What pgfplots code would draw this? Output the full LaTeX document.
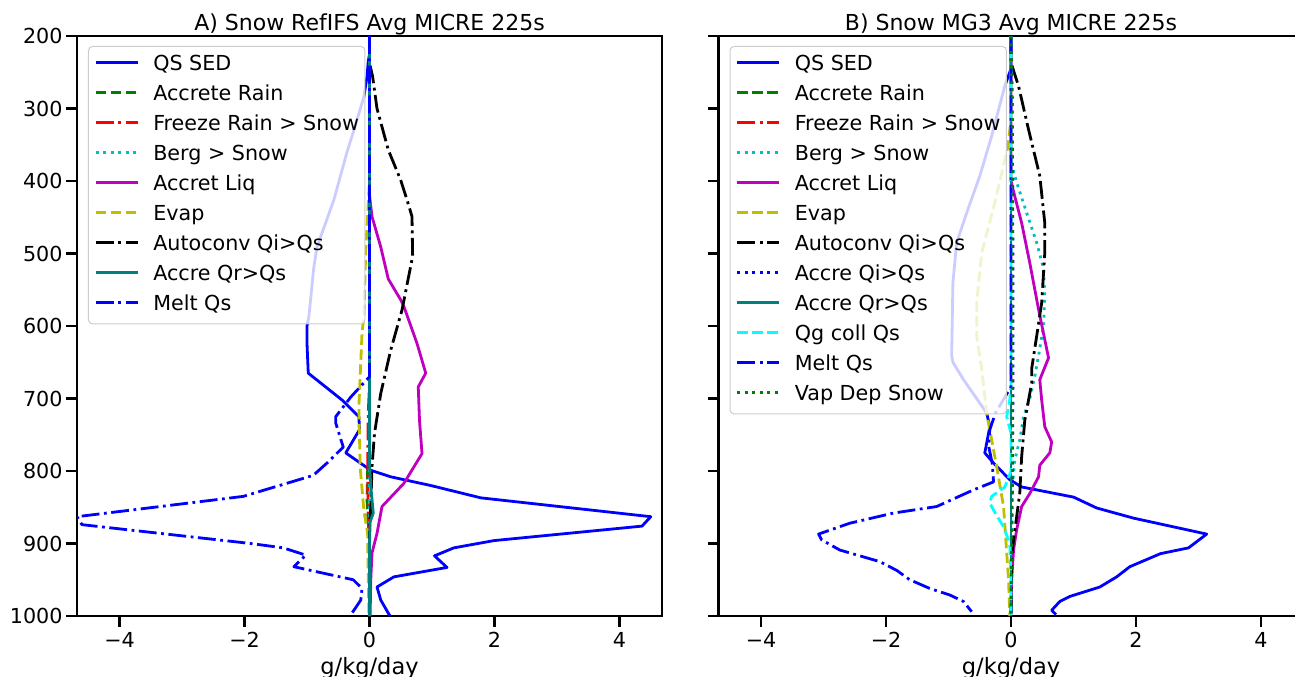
\documentclass[border=0pt]{standalone}
\usepackage{pgfplots}
\pgfplotsset{compat=1.18}
\usepackage{fontspec}
\setmainfont{DejaVu Sans}

\definecolor{mplb}{rgb}{0,0,1}
\definecolor{mplg}{rgb}{0,0.5,0}
\definecolor{mplr}{rgb}{1,0,0}
\definecolor{mplc}{rgb}{0,0.75,0.75}
\definecolor{mplm}{rgb}{0.75,0,0.75}
\definecolor{mply}{rgb}{0.75,0.75,0}
\definecolor{mplteal}{rgb}{0,0.5,0.5}
\definecolor{mplaqua}{rgb}{0,1,1}

\newcommand{\tickfont}{\fontsize{15.5}{18}\selectfont}

\pgfplotsset{
  legend image code/.code={\draw[#1] (0pt,0pt) -- (31.5pt,0pt); \path (0pt,-10.5pt);},
  ln/.style={line width=2.1pt, line join=round},
  sol/.style={ln, solid},
  dsh/.style={ln, dash pattern=on 7.8pt off 3.4pt},
  dsd/.style={ln, dash pattern=on 13.4pt off 3.4pt on 2.1pt off 3.4pt},
  dtt/.style={ln, dash pattern=on 2.1pt off 3.5pt},
  prof/.style={
    scale only axis, width=438.75pt, height=435pt,
    line width=1.9pt,
    xmin=-4.68, xmax=4.68, ymin=200, ymax=1000, y dir=reverse,
    xtick={-4,-2,0,2,4}, xticklabels={−4,−2,0,2,4},
    ytick={200,300,...,1000},
    yticklabels={200,300,400,500,600,700,800,900,1000},
    xtick pos=bottom, ytick pos=left, tick align=outside,
    major tick length=8pt,
    every tick/.style={black, line width=1.9pt},
    tick label style={font=\tickfont},
    yticklabel style={xshift=1.4pt},
    title style={at={(0.5,1)}, anchor=base, yshift=-2pt, font=\fontsize{16.5}{19}\selectfont},
    xlabel={g/kg/day},
    xlabel style={at={(0.5,0)}, anchor=base, yshift=-43.5pt, font=\fontsize{16.9}{20}\selectfont},
    legend cell align=left,
    legend style={at={(0.0188,0.9828)}, anchor=north west, font=\tickfont,
      draw=black!20, line width=0.75pt, rounded corners=3pt,
      fill=white, fill opacity=0.8, draw opacity=1, text opacity=1,
      inner xsep=4.5pt, inner ysep=4.5pt, row sep=3.45pt, column sep=10.5pt,
      nodes={inner sep=0pt, text height=13.15pt, text depth=1.85pt}},
  },
}

\begin{document}
\begin{tikzpicture}

% A) RefIFS
\begin{axis}[prof, at={(57.75pt,45pt)}, anchor=south west,
  title={A) Snow RefIFS Avg MICRE 225s}]
\addplot[sol, mplb] coordinates {(0,200) (0,225) (-0.02,235) (-0.04,256) (-0.09,284) (-0.25,330) (-0.36,360) (-0.57,426) (-0.84,491) (-0.89,518) (-0.97,587) (-1.0,600) (-1.0,624) (-0.98,665) (-0.44,702) (-0.17,725) (-0.16,743) (-0.38,775) (0.02,799) (0.34,808) (0.98,820) (1.78,837) (4.5,863) (4.36,876) (1.99,896) (1.35,906) (1.04,917) (1.24,933) (0.39,946) (0.12,960) (0.18,978) (0.3,996) (0.33,1000)};
\addlegendentry{QS SED}
\addplot[dsh, mplg] coordinates {(0,200) (0,780) (-0.03,800) (-0.04,840) (-0.02,870) (0,900) (0,1000)};
\addlegendentry{Accrete Rain}
\addplot[dsd, mplr] coordinates {(0,200) (0,680) (-0.02,720) (-0.03,800) (-0.02,870) (0,900) (0,1000)};
\addlegendentry{Freeze Rain > Snow}
\addplot[dtt, mplc] coordinates {(0,200) (0,1000)};
\addlegendentry{Berg > Snow}
\addplot[sol, mplm] coordinates {(0,200) (0,420) (0.04,449) (0.18,491) (0.3,535) (0.5,564) (0.55,573) (0.76,624) (0.9,665) (0.78,684) (0.8,730) (0.84,776) (0.55,817) (0.2,849) (0.12,886) (0.04,913) (0.02,950) (0.01,1000)};
\addlegendentry{Accret Liq}
\addplot[dsh, mply] coordinates {(0,200) (0,400) (-0.04,463) (-0.06,495) (-0.09,587) (-0.12,610) (-0.17,711) (-0.15,794) (-0.09,854) (-0.03,886) (-0.02,950) (-0.01,1000)};
\addlegendentry{Evap}
\addplot[dsd, black] coordinates {(0,200) (0,237) (0.05,256) (0.12,300) (0.3,357) (0.5,399) (0.6,426) (0.68,449) (0.69,504) (0.52,578) (0.34,633) (0.18,693) (0.08,748) (0.04,794) (0.02,850) (0,880) (0,1000)};
\addlegendentry{Autoconv Qi>Qs}
\addplot[sol, mplteal] coordinates {(0,200) (0,790) (0.02,820) (0.06,858) (0.01,870) (0,900) (0,1000)};
\addlegendentry{Accre Qr>Qs}
\addplot[dsd, mplb] coordinates {(0,200) (0,670) (-0.3,698) (-0.54,725) (-0.54,734) (-0.42,767) (-0.68,789) (-0.9,806) (-2.02,835) (-4.68,863) (-4.6,874) (-1.9,900) (-1.38,906) (-1.02,916) (-1.21,932) (-0.26,950) (-0.12,962) (-0.14,978) (-0.28,996) (-0.3,1000)};
\addlegendentry{Melt Qs}
\end{axis}

% B) MG3
\begin{axis}[prof, at={(538.9pt,45pt)}, anchor=south west, yticklabels={},
  title={B) Snow MG3 Avg MICRE 225s}]
\addplot[sol, mplb] coordinates {(0,200) (0,245) (-0.1,269) (-0.31,338) (-0.5,393) (-0.71,444) (-0.87,485) (-0.93,540) (-0.95,641) (-0.93,650) (-0.76,674) (-0.39,720) (-0.34,739) (-0.42,775) (-0.28,789) (-0.02,812) (0.17,822) (1.0,836) (1.37,851) (1.96,865) (3.13,887) (2.84,906) (2.39,914) (1.9,932) (1.69,946) (1.42,960) (0.94,973) (0.78,980) (0.65,992) (0.72,998)};
\addlegendentry{QS SED}
\addplot[dsh, mplg] coordinates {(0,200) (0,1000)};
\addlegendentry{Accrete Rain}
\addplot[dsd, mplr] coordinates {(0,200) (0,1000)};
\addlegendentry{Freeze Rain > Snow}
\addplot[dtt, mplc] coordinates {(0,200) (0,375) (0.09,402) (0.25,444) (0.41,485) (0.52,521) (0.54,559) (0.52,600) (0.44,641) (0.38,669) (0.3,700) (0.2,725) (0.14,757) (0.06,785) (0.03,812) (0.01,850) (0,1000)};
\addlegendentry{Berg > Snow}
\addplot[sol, mplm] coordinates {(0,200) (0,400) (0.03,411) (0.17,458) (0.3,513) (0.44,577) (0.6,644) (0.46,674) (0.49,702) (0.54,739) (0.65,760) (0.62,775) (0.46,792) (0.44,808) (0.3,831) (0.17,849) (0.09,881) (0.04,909) (0.01,950) (0,1000)};
\addlegendentry{Accret Liq}
\addplot[dsh, mply] coordinates {(0,200) (0,315) (-0.05,352) (-0.26,430) (-0.47,499) (-0.55,568) (-0.55,614) (-0.47,659) (-0.39,720) (-0.23,794) (-0.12,849) (-0.04,950) (-0.02,1000)};
\addlegendentry{Evap}
\addplot[dsd, black] coordinates {(0,200) (0,237) (0.12,269) (0.28,329) (0.46,393) (0.54,458) (0.54,499) (0.49,568) (0.41,614) (0.33,659) (0.33,679) (0.22,730) (0.17,780) (0.14,830) (0.09,863) (0.04,895) (0.01,920) (0,1000)};
\addlegendentry{Autoconv Qi>Qs}
\addplot[dtt, mplb] coordinates {(0,200) (0.02,300) (0.03,500) (0.03,700) (0.02,800) (0.01,900) (0,1000)};
\addlegendentry{Accre Qi>Qs}
\addplot[sol, mplteal] coordinates {(0,200) (0,1000)};
\addlegendentry{Accre Qr>Qs}
\addplot[dsh, mplaqua] coordinates {(0,200) (0,680) (-0.02,702) (-0.07,725) (0,748) (0,800) (-0.1,822) (-0.31,835) (-0.34,844) (-0.28,854) (-0.12,877) (-0.02,900) (0,950) (0,1000)};
\addlegendentry{Qg coll Qs}
\addplot[dsd, mplb] coordinates {(0,200) (0,684) (-0.25,720) (-0.34,743) (-0.36,765) (-0.3,790) (-0.28,815) (-0.6,826) (-1.19,849) (-1.88,858) (-2.58,872) (-3.08,887) (-3.03,895) (-2.74,909) (-2.1,925) (-1.83,937) (-1.62,950) (-1.3,962) (-0.98,971) (-0.76,980) (-0.63,994)};
\addlegendentry{Melt Qs}
\addplot[dtt, mplg] coordinates {(0,200) (0.02,300) (0.02,800) (0,1000)};
\addlegendentry{Vap Dep Snow}
\end{axis}

\pgfresetboundingbox
\useasboundingbox (0,0) rectangle (971.25pt,507pt);
\end{tikzpicture}
\end{document}
